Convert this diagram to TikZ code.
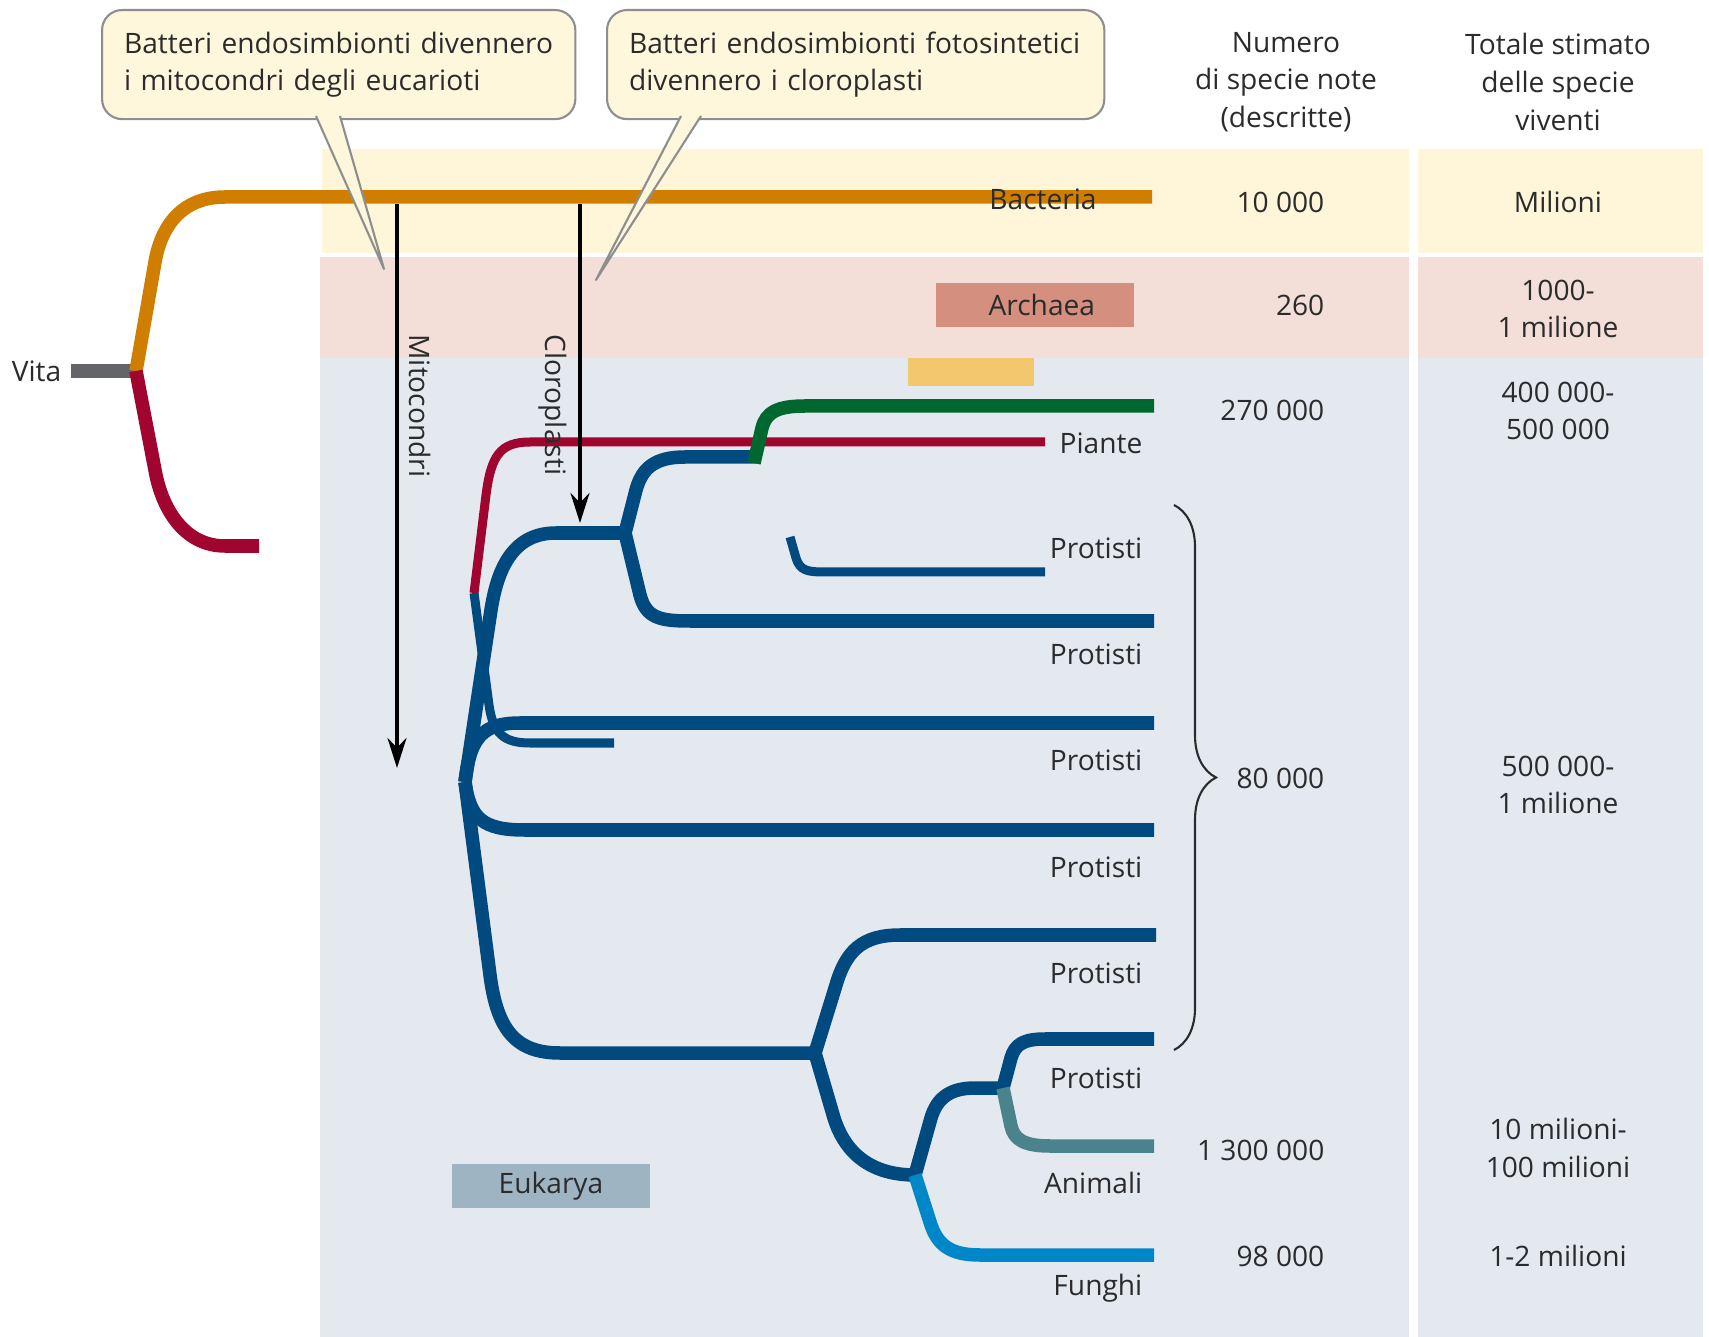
\documentclass[tikz,border=0pt]{standalone}
\usepackage{fontspec}
\setmainfont{Open Sans}
\usepackage{tikz}
\usetikzlibrary{arrows.meta,decorations.pathreplacing}
\definecolor{bandBact}{HTML}{FFF5D9}
\definecolor{bandArch}{HTML}{F4DFD8}
\definecolor{bandEuk}{HTML}{E4E9F0}
\definecolor{bactOrange}{HTML}{D07E00}
\definecolor{archRed}{HTML}{A00530}
\definecolor{eukBlue}{HTML}{004A7F}
\definecolor{plantGreen}{HTML}{00672F}
\definecolor{animTeal}{HTML}{4A838C}
\definecolor{fungBlue}{HTML}{0087C9}
\definecolor{vitaGrey}{HTML}{646569}
\definecolor{archBox}{HTML}{D48F7E}
\definecolor{sunBox}{HTML}{F3C76D}
\definecolor{eukBox}{HTML}{9FB4C3}
\definecolor{noteFill}{HTML}{FFF7DC}
\definecolor{noteEdge}{HTML}{8E8E8E}
\definecolor{ink}{HTML}{2B2B2B}

\begin{document}
\begin{tikzpicture}[
    x=0.01cm, y=-0.01cm,
    lbl/.style={font=\fontsize{8}{10.7}\selectfont, text=ink, inner sep=0pt},
    colval/.style={lbl, align=center},
    leaf/.style={lbl, anchor=east},
    count/.style={lbl, anchor=east},
    tag/.style={lbl, minimum height=0.44cm},
    note/.style={lbl, draw=noteEdge, fill=noteFill, rounded corners=0.2cm, line width=0.6pt,
      align=left, inner xsep=0.22cm, minimum height=1.09cm, anchor=north west},
    notetip/.style={draw=noteEdge, fill=noteFill, line width=0.6pt, line join=round},
    trunk/.style={line width=0.135cm, line join=round},
    twig/.style={line width=0.09cm, line join=round},
    endo/.style={->, line width=1pt, black},
    >={Stealth[length=0.3cm, width=0.19cm]}
  ]
    \useasboundingbox (0,0) rectangle (1709,1337);
    \fill[bandBact] (322,149) rectangle (1409,253);
    \fill[bandBact] (1418,149) rectangle (1703,253);
    \fill[bandArch] (320,257) rectangle (1409,358);
    \fill[bandArch] (1418,257) rectangle (1703,358);
    \fill[bandEuk] (320,358) rectangle (1409,1337);
    \fill[bandEuk] (1418,358) rectangle (1703,1337);

    \node[tag, fill=archBox, minimum width=1.97cm, text width=1.2cm, align=right] (archaea) at (1035,305) {Archaea};
    \node[fill=sunBox, minimum width=1.26cm, minimum height=0.28cm, inner sep=0pt] (sunbox) at (971,372) {};
    \node[tag, fill=eukBox, minimum width=1.98cm] (eukarya) at (551,1186) {Eukarya};

    \coordinate (life) at (136,371);
    \coordinate (vitaend) at (71,371);
    \coordinate (bactend) at (1152,197);
    \coordinate (archend) at (259,546);
    \coordinate (euk) at (465,782);
    \coordinate (nA) at (625,533);
    \coordinate (nP) at (757,457);
    \coordinate (plantroot) at (754,463);
    \coordinate (nB) at (815,1053);
    \coordinate (nC) at (915,1175);
    \coordinate (nD) at (1003,1088);

    \node[lbl, anchor=east] (vita) at (62,371) {Vita};
    \draw[line width=0.14cm, vitaGrey] (vitaend) -- (life);
    \draw[trunk, bactOrange] (life) -- (155,262) .. controls (162,222) and (185,197) .. (225,197) -- (bactend);
    \draw[trunk, archRed] (life) -- (155,470) .. controls (162,510) and (185,546) .. (225,546) -- (archend);

    \draw[twig, archRed] (474,593) -- (486,495) .. controls (491,456) and (500,442) .. (530,442) -- (1045,442);
    \draw[twig, eukBlue] (474,593) -- (489,705) .. controls (493,733) and (503,743) .. (530,743) -- (614,743);
    \draw[trunk, eukBlue] (euk) -- (491,610) .. controls (498,565) and (515,533) .. (556,533) -- (nA);
    \draw[trunk, eukBlue] (nA) -- (636,490) .. controls (642,468) and (655,457) .. (685,457) -- (nP);
    \draw[trunk, eukBlue] (nA) -- (640,595) .. controls (646,618) and (660,621) .. (690,621) -- (1154,621);
    \draw[trunk, plantGreen] (plantroot) -- (762,428) .. controls (766,412) and (778,406) .. (805,406) -- (1154,406);
    \draw[twig, eukBlue] (790,537) -- (796,558) .. controls (800,571) and (808,572) .. (825,572) -- (1045,572);
    \draw[trunk, eukBlue] (euk) .. controls (470,738) and (482,723) .. (520,723) -- (1154,723);
    \draw[trunk, eukBlue] (euk) .. controls (470,818) and (482,830) .. (525,830) -- (1154,830);
    \draw[trunk, eukBlue] (euk) -- (490,975) .. controls (497,1029) and (515,1053) .. (560,1053) -- (nB);
    \draw[trunk, eukBlue] (nB) -- (836,985) .. controls (846,951) and (862,935) .. (900,935) -- (1156,935);
    \draw[trunk, eukBlue] (nB) -- (834,1118) .. controls (843,1147) and (865,1175) .. (nC);
    \draw[trunk, eukBlue] (nC) -- (931,1118) .. controls (937,1098) and (950,1088) .. (975,1088) -- (nD);
    \draw[trunk, fungBlue] (nC) -- (930,1222) .. controls (937,1245) and (950,1255) .. (980,1255) -- (1154,1255);
    \draw[trunk, eukBlue] (nD) -- (1011,1058) .. controls (1015,1044) and (1024,1039) .. (1045,1039) -- (1154,1039);
    \draw[trunk, animTeal] (nD) -- (1011,1126) .. controls (1014,1140) and (1025,1146) .. (1050,1146) -- (1154,1146);

    \coordinate (mitostart) at (397,204);
    \coordinate (mitoend) at (397,768);
    \coordinate (clorostart) at (580,204);
    \coordinate (cloroend) at (580,523);
    \draw[endo] (mitostart) -- (mitoend);
    \draw[endo] (clorostart) -- (cloroend);
    \node[lbl, rotate=-90] (mitolbl) at (420,406) {Mitocondri};
    \node[lbl, rotate=-90] (clorolbl) at (553,405) {Cloroplasti};

    \node[lbl] (bacteria) at (1043,199) {Bacteria};
    \node[leaf] (piante) at (1143,443) {Piante};
    \node[leaf] (prot1) at (1143,548) {Protisti};
    \node[leaf] (prot2) at (1143,654) {Protisti};
    \node[leaf] (prot3) at (1143,760) {Protisti};
    \node[leaf] (prot4) at (1143,867) {Protisti};
    \node[leaf] (prot5) at (1143,973) {Protisti};
    \node[leaf] (prot6) at (1143,1078) {Protisti};
    \node[leaf] (animali) at (1143,1183) {Animali};
    \node[leaf] (funghi) at (1143,1288) {Funghi};

    \draw[ink, line width=0.6pt, decorate, decoration={brace, amplitude=0.42cm}] (1174,505) -- (1174,1050);

    \node[colval] (numhead) at (1286,82) {Numero\\di specie note\\(descritte)};
    \node[colval] (tothead) at (1558,82) {Totale stimato\\delle specie\\viventi};
    \node[count] (nbact) at (1325,202) {10 000};
    \node[count] (narch) at (1325,305) {260};
    \node[count] (nplant) at (1325,410) {270 000};
    \node[count] (nprot) at (1325,778) {80 000};
    \node[count] (nanim) at (1325,1150) {1 300 000};
    \node[count] (nfung) at (1325,1256) {98 000};
    \node[colval] (tbact) at (1558,202) {Milioni};
    \node[colval] (tarch) at (1558,309) {1000-\\1 milione};
    \node[colval] (tplant) at (1558,411) {400 000-\\500 000};
    \node[colval] (tprot) at (1558,785) {500 000-\\1 milione};
    \node[colval] (tanim) at (1558,1148) {10 milioni-\\100 milioni};
    \node[colval] (tfung) at (1558,1256) {1-2 milioni};

    \node[note, text width=4.29cm] (mitonote) at (101,9) {Batteri endosimbionti divennero\\i mitocondri degli eucarioti};
    \node[note, text width=4.53cm] (cloronote) at (606,9) {Batteri endosimbionti fotosintetici\\divennero i cloroplasti};
    \coordinate (mitotip) at (384,269);
    \coordinate (clorotip) at (596,280);
    \filldraw[notetip] (316,116) -- (mitotip) -- (340,116);
    \filldraw[notetip] (681,116) -- (clorotip) -- (701,116);
  \end{tikzpicture}
\end{document}
